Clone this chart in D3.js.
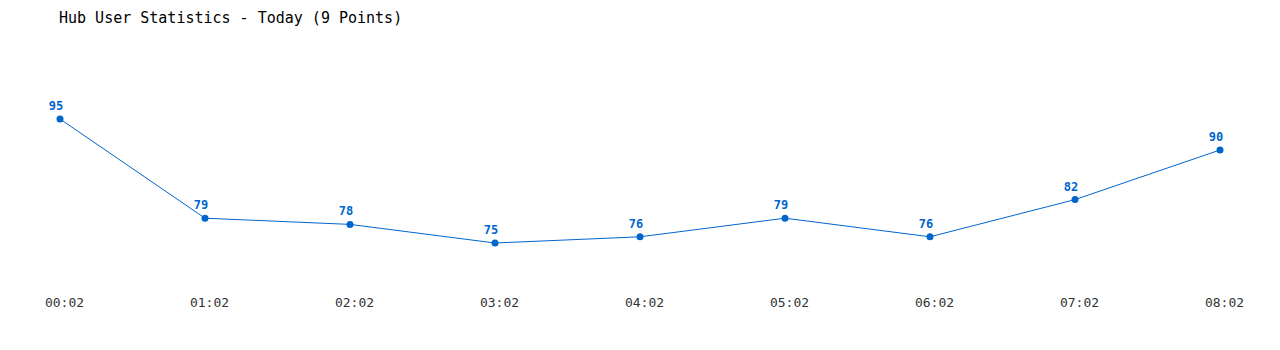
<!DOCTYPE html>
<html>
<head>
<meta charset="utf-8">
<script src="https://cdn.jsdelivr.net/npm/d3@7"></script>
<style>
  body { margin: 0; background: #fff; }
  text { font-family: "DejaVu Sans Mono", "Liberation Mono", monospace; }
</style>
</head>
<body>
<div id="chart"></div>
<script>
// data
var times = ["00:02", "01:02", "02:02", "03:02", "04:02", "05:02", "06:02", "07:02", "08:02"];
var users = [95, 79, 78, 75, 76, 79, 76, 82, 90];

var width = 1280, height = 350;

var svg = d3.select("#chart")
  .append("svg")
  .attr("width", width)
  .attr("height", height);

// title
svg.append("text")
  .attr("x", 59)
  .attr("y", 23)
  .attr("font-size", 15)
  .attr("fill", "#000")
  .text("Hub User Statistics - Today (9 Points)");

// x scale
var x = d3.scalePoint()
  .domain(times)
  .range([60, 1220]);

// y scale
var y = d3.scaleLinear()
  .domain([75, 95])
  .range([243, 119]);

// x axis, labels only
var xAxis = svg.append("g")
  .attr("transform", "translate(4,298)")
  .call(d3.axisBottom(x).tickSize(0).tickPadding(0));
xAxis.select(".domain").remove();
xAxis.selectAll("text")
  .attr("font-size", 13)
  .attr("fill", "#333")
  .attr("font-family", "'DejaVu Sans Mono', monospace");

var data = times.map(function(t, i) { return {t: t, v: users[i]}; });

// line
svg.append("path")
  .datum(data)
  .attr("fill", "none")
  .attr("stroke", "#0066cc")
  .attr("stroke-width", 1)
  .attr("d", d3.line()
    .x(function(d) { return x(d.t); })
    .y(function(d) { return y(d.v); }));

// dots
svg.append("g")
  .selectAll("circle")
  .data(data)
  .enter().append("circle")
    .attr("cx", function(d) { return x(d.t); })
    .attr("cy", function(d) { return y(d.v); })
    .attr("r", 3.5)
    .attr("fill", "#0066cc");

// value labels
svg.append("g")
  .selectAll("text")
  .data(data)
  .enter().append("text")
    .attr("x", function(d) { return x(d.t) - 4; })
    .attr("y", function(d) { return y(d.v) - 9; })
    .attr("text-anchor", "middle")
    .attr("font-size", 12)
    .attr("font-weight", "bold")
    .attr("fill", "#0066cc")
    .text(function(d) { return d.v; });
</script>
</body>
</html>
